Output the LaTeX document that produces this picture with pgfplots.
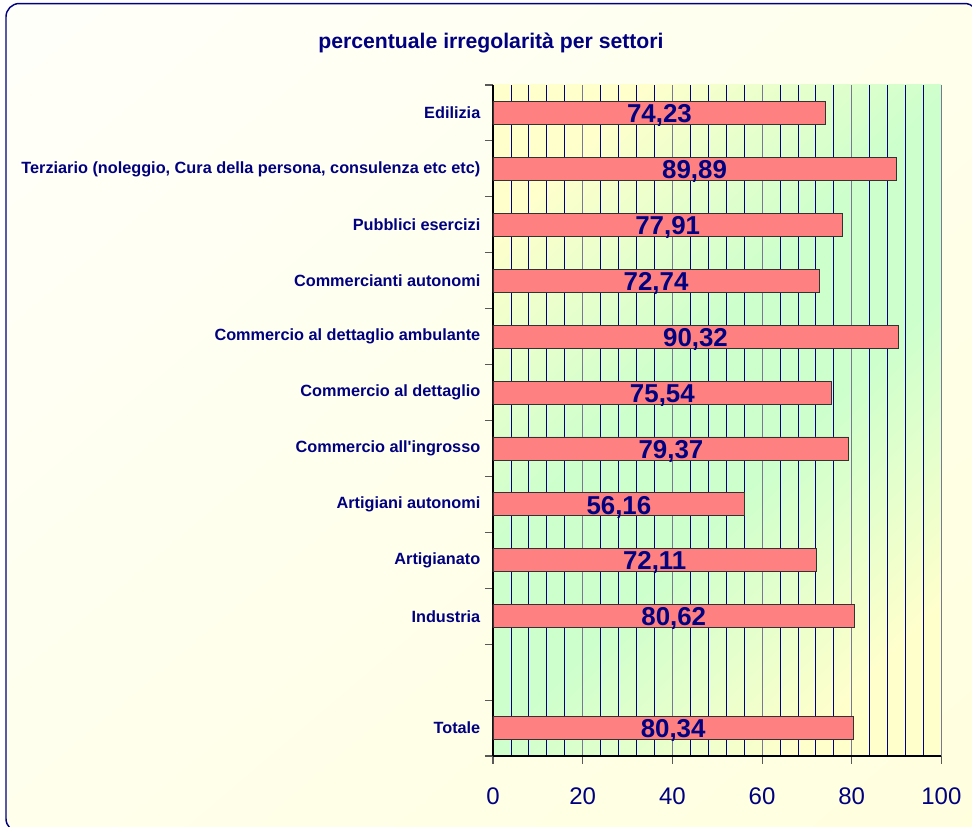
\documentclass[border=0pt]{standalone}
\usepackage{fontspec}
\setmainfont{Liberation Sans}
\usepackage{pgfplots}
\pgfplotsset{compat=1.18}
\usepackage{pgfplotstable}
\usetikzlibrary{shadings}
\definecolor{navy}{RGB}{0,0,128}
\definecolor{barred}{RGB}{255,128,128}
\definecolor{plotyel}{RGB}{255,255,204}
\definecolor{plotgrn}{RGB}{204,255,204}
\definecolor{bgA}{RGB}{255,255,250}
\definecolor{bgB}{RGB}{255,255,222}
\definecolor{gridmaj}{RGB}{120,120,150}
\pgfdeclarehorizontalshading{ygy}{100bp}{color(0bp)=(plotyel); color(24bp)=(plotyel); color(44bp)=(plotgrn); color(56bp)=(plotgrn); color(76bp)=(plotyel); color(100bp)=(plotyel)}

\pgfplotstableread{
y x lab
0 80.34 80,34
2 80.62 80,62
3 72.11 72,11
4 56.16 56,16
5 79.37 79,37
6 75.54 75,54
7 90.32 90,32
8 72.74 72,74
9 77.91 77,91
10 89.89 89,89
11 74.23 74,23
}\data

\begin{document}
\begin{tikzpicture}
\path[use as bounding box] (0,0) rectangle (729pt,620.25pt);
\shadedraw[draw=navy, line width=1.1pt, rounded corners=10pt,
  upper left=bgA, upper right=bgA!50!bgB, lower left=bgA!50!bgB, lower right=bgB]
  (4.5pt,-3.75pt) rectangle (733.5pt,617.6pt);
\node[anchor=base, font=\bfseries\fontsize{15.9pt}{18pt}\selectfont, text=navy]
  at (368.25pt,584pt) {percentuale irregolarità per settori};
\begin{axis}[
  at={(369.75pt,53.25pt)}, anchor=south west,
  scale only axis, width=336.3pt, height=503.25pt,
  xmin=0, xmax=100, ymin=-0.5, ymax=11.5,
  axis x line*=bottom, axis y line*=left,
  x axis line style={-, black, line width=0.8pt},
  y axis line style={-, black, line width=0.8pt},
  axis background/.style={shade, shading=ygy, shading angle=-45},
  xtick={0,20,40,60,80,100},
  minor xtick={4,8,12,16,24,28,32,36,44,48,52,56,64,68,72,76,84,88,92,96},
  xmajorgrids, xminorgrids,
  major grid style={gridmaj, line width=0.7pt},
  minor grid style={navy, line width=0.6pt},
  minor tick length=0pt,
  major tick length=6pt,
  tick align=outside,
  tick style={gray!70!black, line width=0.8pt},
  ytick={-0.5,0.5,...,11.5},
  y tick label as interval,
  yticklabels={Totale,,Industria,Artigianato,Artigiani autonomi,Commercio all\textquotesingle ingrosso,Commercio al dettaglio,Commercio al dettaglio ambulante,Commercianti autonomi,Pubblici esercizi,{Terziario (noleggio, Cura della persona, consulenza etc etc)},Edilizia},
  yticklabel style={font=\bfseries\fontsize{12.2pt}{14pt}\selectfont, text=navy, anchor=east},
  xticklabel style={font=\fontsize{18pt}{20pt}\selectfont, text=navy, yshift=-14pt},
  /pgf/number format/assume math mode=true,
  clip=false,
]
\addplot[xbar, bar width=17.25pt, fill=barred, draw=black!80, line width=0.6pt,
  point meta=explicit symbolic,
  nodes near coords,
  visualization depends on={\thisrow{x} \as \xval},
  every node near coord/.append style={anchor=center, xshift={-0.5*\xval*3.363pt}, yshift=-2pt,
    font=\bfseries\fontsize{19.4pt}{21pt}\selectfont, text=navy}]
  table[x=x, y=y, meta=lab] {\data};
\end{axis}
\end{tikzpicture}
\end{document}
